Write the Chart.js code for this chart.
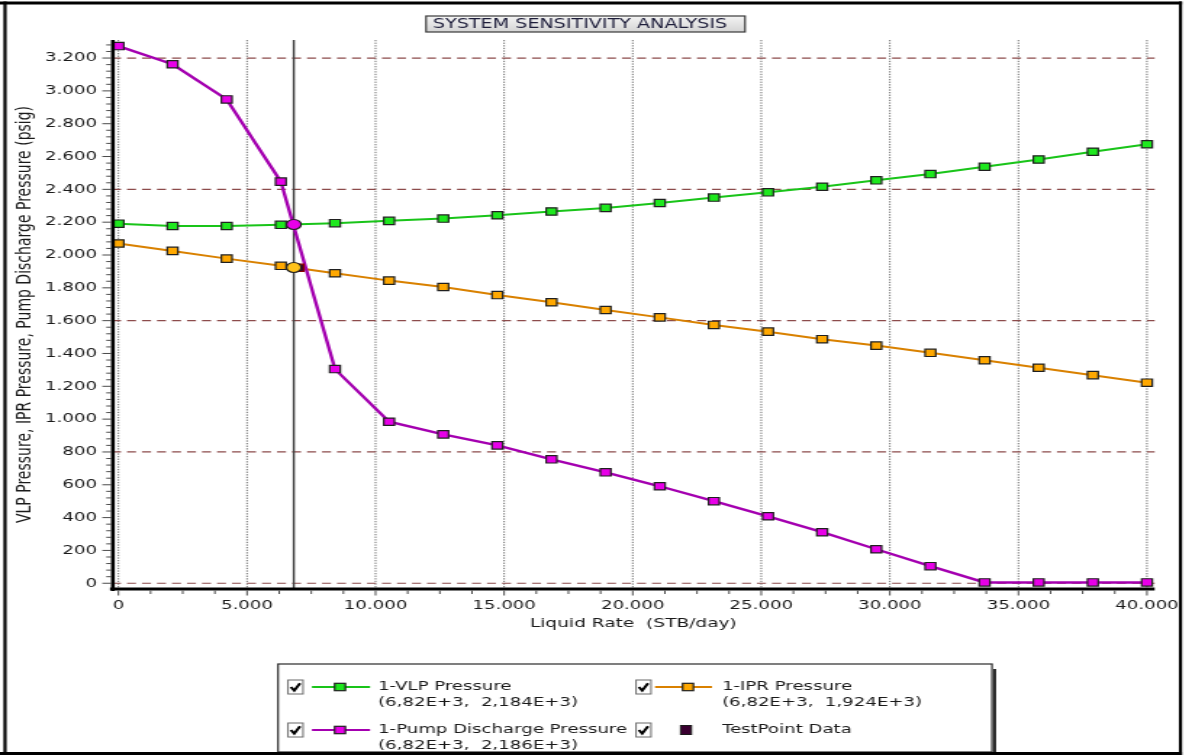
<!DOCTYPE html>
<html>
<head>
<meta charset="utf-8">
<title>System Sensitivity Analysis</title>
<script src="https://cdn.jsdelivr.net/npm/chart.js@4.4.1/dist/chart.umd.min.js"></script>
<style>
    html, body { margin: 0; padding: 0; background: #fff; overflow: hidden; }
    /* the source screenshot is stretched sideways, so the whole canvas is too */
    #chart { display: block; transform: scaleX(1.4501); transform-origin: 0 0; }
</style>
</head>
<body>
<canvas id="chart" width="822" height="755"></canvas>
<script>
// Liquid rate of each calculated point (STB/day)
const rates = [0, 2105, 4211, 6316, 8421, 10526, 12632, 14737, 16842, 18947,
               21053, 23158, 25263, 27368, 29474, 31579, 33684, 35789, 37895, 40000];

// Pressures (psig)
const vlpPressure  = [2191, 2177, 2177, 2184, 2194, 2208, 2222, 2242, 2265, 2287,
                      2317, 2350, 2382, 2416, 2455, 2493, 2538, 2582, 2629, 2675];
const iprPressure  = [2070, 2025, 1978, 1934, 1889, 1844, 1805, 1756, 1712, 1665,
                      1620, 1574, 1533, 1487, 1448, 1404, 1359, 1313, 1268, 1222];
const pumpPressure = [3273, 3162, 2948, 2447, 1305, 984, 907, 840, 755, 676,
                      591, 500, 408, 311, 207, 104, 5, 5, 5, 5];

// Operating point (solution) and test point
const opRate = 6820;
const opPump = 2186;
const opIpr = 1924;
const testRates = [7000];
const testPressures = [1922];

// Axis tick labels
const xTickValues = [0, 5000, 10000, 15000, 20000, 25000, 30000, 35000, 40000];
const yTickValues = [0, 200, 400, 600, 800, 1000, 1200, 1400, 1600, 1800, 2000,
                     2200, 2400, 2600, 2800, 3000, 3200];

// Legend texts
const legendNames = ['1-VLP Pressure', '1-IPR Pressure', '1-Pump Discharge Pressure', 'TestPoint Data'];
const legendValues = ['(6,82E+3,  2,184E+3)', '(6,82E+3,  1,924E+3)', '(6,82E+3,  2,186E+3)', ''];

const FONT = 'DejaVu Sans';
const TEXT = '#1a1a1a';
const SX = 1.4501;
const X = v => v / SX; // screen px -> canvas px

const colors = {
    vlp:  { line: '#19c419', fill: '#1ee81e' },
    ipr:  { line: '#d98100', fill: '#ffa800' },
    pump: { line: '#a400b0', fill: '#e800e8' },
    test: { line: '#8b0000', fill: '#3a0030' }
};

function thousands(v) {
    return String(Math.round(v)).replace(/\B(?=(\d{3})+(?!\d))/g, '.');
}

function points(xs, ys) {
    return xs.map((x, i) => ({ x, y: ys[i] }));
}

function seg(ctx, x1, y1, x2, y2) {
    ctx.beginPath();
    ctx.moveTo(x1, y1);
    ctx.lineTo(x2, y2);
    ctx.stroke();
}

function marker(ctx, cx, cy, fill) {
    const s = 3.7;
    ctx.fillStyle = fill;
    ctx.fillRect(cx - s, cy - s, 2 * s, 2 * s);
    ctx.strokeStyle = '#202020';
    ctx.lineWidth = 1.2;
    ctx.strokeRect(cx - s, cy - s, 2 * s, 2 * s);
}

function checkbox(ctx, x, y) {
    ctx.fillStyle = '#fff';
    ctx.fillRect(x, y, X(15), 14);
    ctx.strokeStyle = '#6b6b6b';
    ctx.lineWidth = 1;
    ctx.strokeRect(x, y, X(15), 14);
    ctx.strokeStyle = '#000';
    ctx.lineWidth = 2;
    ctx.beginPath();
    ctx.moveTo(x + 2, y + 7);
    ctx.lineTo(x + 4.3, y + 10.5);
    ctx.lineTo(x + 8.3, y + 3.2);
    ctx.stroke();
}

const decor = {
    id: 'decor',
    beforeDraw(chart) {
        const { ctx, width, height } = chart;
        ctx.save();
        ctx.fillStyle = '#fff';
        ctx.fillRect(0, 0, width, height);
        ctx.restore();
    },
    beforeDatasetsDraw(chart) {
        const { ctx, chartArea: a, scales: { x, y } } = chart;
        ctx.save();

        // vertical dotted grid on the x labels
        ctx.strokeStyle = '#6e6e6e';
        ctx.lineWidth = 1;
        ctx.setLineDash([1.3, 1.3]);
        for (const v of xTickValues) {
            const px = x.getPixelForValue(v);
            seg(ctx, px, a.top, px, a.bottom);
        }

        // horizontal dashed grid every 800
        ctx.strokeStyle = '#8c4b4b';
        ctx.lineWidth = 1.2;
        ctx.setLineDash([X(9), X(6)]);
        for (const v of yTickValues) {
            if (v % 800 !== 0) continue;
            const py = y.getPixelForValue(v);
            seg(ctx, a.left, py, a.right, py);
        }

        // operating rate line
        ctx.setLineDash([]);
        ctx.strokeStyle = '#3c3c3c';
        ctx.lineWidth = 1.4;
        const ox = x.getPixelForValue(opRate);
        seg(ctx, ox, a.top, ox, a.bottom);
        ctx.restore();
    },
    afterDraw(chart) {
        const { ctx, chartArea: a, scales: { x, y } } = chart;
        ctx.save();

        // axis lines
        ctx.strokeStyle = '#000';
        ctx.lineWidth = 2.6;
        seg(ctx, a.left + 0.6, a.top, a.left + 0.6, a.bottom + 2);
        ctx.lineWidth = 3;
        seg(ctx, X(110), a.bottom, a.right, a.bottom);

        // tick marks (minor: 40 psig, 1.250 STB/day)
        ctx.lineWidth = 1;
        ctx.strokeStyle = '#4a4a4a';
        for (let v = 0; v <= 3280; v += 40) {
            const py = y.getPixelForValue(v);
            const len = v % 200 === 0 ? X(9) : X(5);
            seg(ctx, a.left - 0.5 - len, py, a.left - 0.5, py);
        }
        for (let v = 0; v <= 40000; v += 1250) {
            const px = x.getPixelForValue(v);
            seg(ctx, px, a.bottom + 1.5, px, a.bottom + (v % 5000 === 0 ? 6.5 : 5));
        }

        // title box
        const tx = X(426), tw = X(745) - X(426);
        const grad = ctx.createLinearGradient(0, 16, 0, 32);
        grad.addColorStop(0, '#f4f4f4');
        grad.addColorStop(1, '#d4d4d4');
        ctx.fillStyle = grad;
        ctx.fillRect(tx, 16, tw, 16);
        ctx.strokeStyle = '#3a3a3a';
        ctx.lineWidth = 1.2;
        ctx.strokeRect(tx, 16, tw, 16);
        ctx.fillStyle = '#1d1d3a';
        ctx.font = `13.2px "${FONT}"`;
        ctx.textAlign = 'center';
        ctx.textBaseline = 'middle';
        ctx.fillText('SYSTEM SENSITIVITY ANALYSIS', X(580), 24.5);

        // legend box with shadow
        const lx = X(278), lr = X(992);
        ctx.fillStyle = '#2a2a2a';
        ctx.fillRect(lr + 0.8, 669, X(3), 90);
        ctx.fillStyle = '#fff';
        ctx.fillRect(lx, 664, lr - lx, 88);
        ctx.strokeStyle = '#2a2a2a';
        ctx.lineWidth = 1.2;
        ctx.strokeRect(lx, 664, lr - lx, 88);

        const entries = [
            { cb: 288, sym: [312, 370], sq: 340, tx: 378, y: 687, c: colors.vlp, line: true },
            { cb: 636, sym: [655, 712], sq: 688, tx: 722, y: 687, c: colors.ipr, line: true },
            { cb: 288, sym: [312, 370], sq: 340, tx: 378, y: 730, c: colors.pump, line: true },
            { cb: 636, sym: [655, 712], sq: 686, tx: 722, y: 730, c: colors.test, line: false }
        ];
        entries.forEach((e, i) => {
            checkbox(ctx, X(e.cb), e.y - 7);
            if (e.line) {
                ctx.strokeStyle = e.c.line;
                ctx.lineWidth = 2;
                seg(ctx, X(e.sym[0]), e.y, X(e.sym[1]), e.y);
                marker(ctx, X(e.sq), e.y, e.c.fill);
            } else {
                ctx.fillStyle = e.c.fill;
                ctx.fillRect(X(e.sq) - 3.7, e.y - 4.5, 7.4, 9);
                ctx.strokeStyle = '#1a1a1a';
                ctx.lineWidth = 1;
                ctx.strokeRect(X(e.sq) - 3.7, e.y - 4.5, 7.4, 9);
            }
            ctx.fillStyle = TEXT;
            ctx.font = `12.5px "${FONT}"`;
            ctx.textAlign = 'left';
            ctx.textBaseline = 'middle';
            ctx.fillText(legendNames[i], X(e.tx), e.y);
            if (legendValues[i]) ctx.fillText(legendValues[i], X(e.tx), e.y + 16);
        });

        // outer frame
        ctx.strokeStyle = '#000';
        ctx.lineWidth = 3;
        seg(ctx, 0, 3, X(1182), 3);
        seg(ctx, 0, 753.5, X(1182), 753.5);
        ctx.lineWidth = 2.2;
        seg(ctx, X(5), 1.5, X(5), 755);
        seg(ctx, X(1180.5), 1.5, X(1180.5), 755);
        ctx.restore();
    }
};

const tickFont = { family: FONT, size: 12.5 };

function lineSeries(label, ys, c, order, width) {
    return {
        label,
        data: points(rates, ys),
        borderColor: c.line,
        borderWidth: width,
        tension: 0,
        pointStyle: 'rect',
        pointRadius: 5.2,
        pointBackgroundColor: c.fill,
        pointBorderColor: '#202020',
        pointBorderWidth: 1.2,
        order
    };
}

new Chart(document.getElementById('chart'), {
    type: 'line',
    data: {
        datasets: [
            lineSeries(legendNames[0], vlpPressure, colors.vlp, 4, 2),
            lineSeries(legendNames[1], iprPressure, colors.ipr, 3, 2),
            lineSeries(legendNames[2], pumpPressure, colors.pump, 2, 2.4),
            {
                label: legendNames[3],
                data: points(testRates, testPressures),
                showLine: false,
                pointStyle: 'rect',
                pointRadius: 5.2,
                pointBackgroundColor: colors.test.fill,
                pointBorderColor: colors.test.line,
                pointBorderWidth: 1.2,
                order: 1
            },
            {
                label: 'Operating point',
                data: [{ x: opRate, y: opPump }, { x: opRate, y: opIpr }],
                showLine: false,
                pointStyle: 'circle',
                pointRadius: 5,
                pointBackgroundColor: [colors.pump.fill, '#ffc21a'],
                pointBorderColor: '#202020',
                pointBorderWidth: 1.2,
                order: 0
            }
        ]
    },
    options: {
        responsive: false,
        animation: false,
        events: [],
        layout: { padding: { left: 0, right: 822 - X(1157), top: 40, bottom: 124 } },
        plugins: {
            legend: { display: false },
            tooltip: { enabled: false },
            title: { display: false }
        },
        scales: {
            x: {
                type: 'linear',
                min: -250,
                max: 40300,
                afterFit: scale => { scale.height = 42; },
                afterBuildTicks: scale => { scale.ticks = xTickValues.map(value => ({ value })); },
                grid: { display: false, drawTicks: false },
                border: { display: false },
                ticks: {
                    autoSkip: false,
                    maxRotation: 0,
                    padding: 9,
                    color: TEXT,
                    font: tickFont,
                    callback: v => thousands(v)
                },
                title: {
                    display: true,
                    text: 'Liquid Rate  (STB/day)',
                    color: TEXT,
                    font: { family: FONT, size: 12.8 },
                    padding: 0
                }
            },
            y: {
                type: 'linear',
                min: -35,
                max: 3310,
                afterFit: scale => { scale.width = X(112); },
                afterBuildTicks: scale => { scale.ticks = yTickValues.map(value => ({ value })); },
                grid: { display: false, drawTicks: false },
                border: { display: false },
                ticks: {
                    autoSkip: false,
                    padding: X(15),
                    color: TEXT,
                    font: tickFont,
                    callback: v => thousands(v)
                },
                title: {
                    display: true,
                    text: 'VLP Pressure, IPR Pressure, Pump Discharge Pressure (psig)',
                    color: TEXT,
                    font: { family: FONT, size: 14 },
                    padding: { top: 9, bottom: 0 }
                }
            }
        }
    },
    plugins: [decor]
});
</script>
</body>
</html>
